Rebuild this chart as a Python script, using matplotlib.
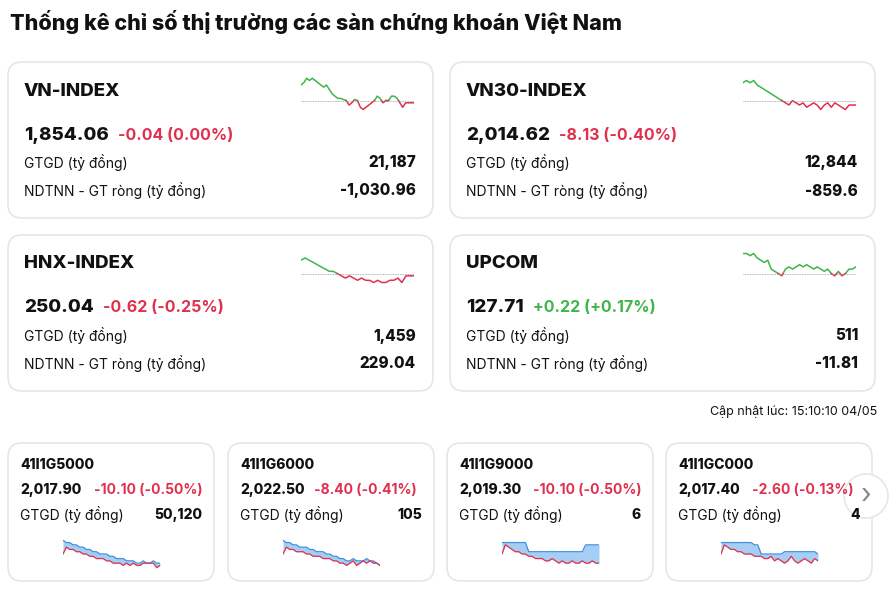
import numpy as np
import matplotlib.pyplot as plt
from matplotlib.patches import FancyBboxPatch

plt.rcParams['font.family'] = ['Inter', 'DejaVu Sans']

big_names = ["VN-INDEX", "VN30-INDEX", "HNX-INDEX", "UPCOM"]
big_values = ["1,854.06", "2,014.62", "250.04", "127.71"]
big_changes = ["-0.04 (0.00%)", "-8.13 (-0.40%)", "-0.62 (-0.25%)", "+0.22 (+0.17%)"]
big_gtgd = ["21,187", "12,844", "1,459", "511"]
big_ndtnn = ["-1,030.96", "-859.6", "229.04", "-11.81"]
spark_vn = [7,8,10,9,10,9,8,7,6,7,5,3,2,1,1,0.5,0,-2,-1,0.5,0,-3,-4,-3,-2,-1,0,2,1,-1,0,0,2,2,1,-1,-3,-1,-1,-1,-1]
spark_vn30 = [8,9,8,9,7,6,5,4,3,2,1,0,-1,-2,0,-1,-2,-1,-3,-2,-1,-2,-4,-2,-1,-3,-1,-2,-3,-4,-2,-2,-2]
spark_hnx = [6,7,6,5,4,3,2,1,1,0,-1,-2,-1,-2,-3,-2,-3,-3,-4,-3,-4,-4,-3,-3,-2,-4,-1,-1,-1]
spark_upcom = [9,9,8,9,7,6,5,6,2,1,0,-1,2,3,2,3,4,3,4,3,2,3,2,1,2,0,-1,1,-1,0,2,2,3]
big_sparks = [spark_vn, spark_vn30, spark_hnx, spark_upcom]

small_names = ["41I1G5000", "41I1G6000", "41I1G9000", "41I1GC000"]
small_values = ["2,017.90", "2,022.50", "2,019.30", "2,017.40"]
small_changes = ["-10.10 (-0.50%)", "-8.40 (-0.41%)", "-10.10 (-0.50%)", "-2.60 (-0.13%)"]
small_gtgd = ["50,120", "105", "6", "4"]
fut_1 = [10,9,9,8,8,7,7,6,6,5,5,4,4,4,3,3,2,2,2,1,1,1,0,0,1,0,0,1,0,0]
idx_1 = [4,7,6,6,5,5,4,4,3,3,2,2,2,1,1,0,0,0,-1,0,-1,0,-1,-1,0,0,0,0,-2,-1]
fut_2 = [10,9,9,8,8,7,7,7,6,6,5,5,5,4,4,3,3,2,2,1,1,2,1,1,1,2,1,1,0,-1]
idx_2 = [4,7,6,6,5,5,5,4,4,3,3,3,2,2,2,1,1,0,0,-1,0,1,-1,0,1,0,1,0,0,-1]
fut_3 = [9,9,9,9,9,9,9,9,5,5,5,5,5,5,5,5,5,5,5,5,5,5,5,5,5,8,8,8,8,8]
idx_3 = [4,8,7,6,5,5,4,4,3,3,2,2,2,1,1,2,1,0,1,0,0,1,0,0,1,0,0,1,0,0]
fut_4 = [9,9,9,9,9,9,9,9,9,9,8,8,4,4,4,4,4,4,4,5,5,5,5,5,5,5,5,5,5,4]
idx_4 = [4,8,7,6,6,5,5,4,4,4,3,3,3,2,2,3,1,2,1,0,1,3,1,0,1,2,1,0,2,1]
small_fut = [fut_1, fut_2, fut_3, fut_4]
small_idx = [idx_1, idx_2, idx_3, idx_4]

W, H = 890, 592
fig = plt.figure(figsize=(W/100, H/100), dpi=100)
bg = fig.add_axes([0, 0, 1, 1])
bg.set_xlim(0, W); bg.set_ylim(H, 0); bg.axis('off')
renderer = fig.canvas.get_renderer()

GREEN = '#3fb549'; RED = '#e0304e'; DARK = '#111111'; BLUE = '#3d8fe0'

def card(x, y, w, h):
    bg.add_patch(FancyBboxPatch((x, y), w, h, boxstyle="round,pad=0,rounding_size=14",
                                fc='white', ec='#e6e6ea', lw=1.2))

def sub_ax(x, y, w, h):
    a = fig.add_axes([x/W, 1-(y+h)/H, w/W, h/H])
    a.axis('off')
    return a

def right_end(txt):
    bb = txt.get_window_extent(renderer=renderer)
    return bb.x1

bg.text(10, 22, "Thống kê chỉ số thị trường các sàn chứng khoán Việt Nam", fontsize=15.5,
        fontweight='heavy', color=DARK, va='center')

pos = [(8, 62), (450, 62), (8, 235), (450, 235)]
for i, (x, y) in enumerate(pos):
    card(x, y, 425, 156)
    bg.text(x+16, y+29, big_names[i], fontsize=13.5, fontweight='heavy', color=DARK, va='center')
    tv = bg.text(x+16, y+73, big_values[i], fontsize=13.5, fontweight='heavy', color=DARK, va='center')
    col = GREEN if big_changes[i].startswith('+') else RED
    bg.text(right_end(tv) + 9, y+73, big_changes[i], fontsize=11.5,
            fontweight='bold', color=col, va='center')
    bg.text(x+16, y+101, "GTGD (tỷ đồng)", fontsize=10, color=DARK, va='center')
    bg.text(x+408, y+101, big_gtgd[i], fontsize=11, fontweight='heavy', color=DARK, va='center', ha='right')
    bg.text(x+16, y+129, "NDTNN - GT ròng (tỷ đồng)", fontsize=10, color=DARK, va='center')
    bg.text(x+408, y+129, big_ndtnn[i], fontsize=11, fontweight='heavy', color=DARK, va='center', ha='right')
    s = np.array(big_sparks[i], float)
    a = sub_ax(x+293, y+14, 113, 38)
    t = np.arange(len(s))
    tf = np.linspace(0, len(s)-1, 800)
    sf = np.interp(tf, t, s)
    a.plot(tf, np.where(sf >= 0, sf, np.nan), color=GREEN, lw=1.1)
    a.plot(tf, np.where(sf <= 0, sf, np.nan), color=RED, lw=1.1)
    a.axhline(0, color='#999999', lw=0.6, ls=(0, (1, 1)))
    a.set_xlim(0, len(s)-1); a.set_ylim(-6, 11)

bg.text(877, 411, "Cập nhật lúc: 15:10:10 04/05", fontsize=9, color=DARK, va='center', ha='right')

sx = [8, 228, 447, 666]
for i, x in enumerate(sx):
    card(x, 443, 206, 138)
    bg.text(x+12, 465, small_names[i], fontsize=10, fontweight='heavy', color=DARK, va='center')
    bg.text(x+12, 490, small_values[i], fontsize=10, fontweight='heavy', color=DARK, va='center')
    bg.text(x+86, 490, small_changes[i], fontsize=10, fontweight='bold', color=RED, va='center')
    bg.text(x+12, 515, "GTGD (tỷ đồng)", fontsize=10, color=DARK, va='center')
    bg.text(x+194, 515, small_gtgd[i], fontsize=10, fontweight='heavy', color=DARK, va='center', ha='right')
    f = np.array(small_fut[i], float); d = np.array(small_idx[i], float)
    a = sub_ax(x+55, 538, 97, 32)
    t = np.arange(len(f))
    a.fill_between(t, d, f, where=f >= d, color='#9cc8f2', alpha=0.9, lw=0, interpolate=True)
    a.plot(t, f, color=BLUE, lw=0.9)
    a.plot(t, d, color=RED, lw=0.9)
    a.set_xlim(0, len(f)-1); a.set_ylim(-3, 11)

bg.add_patch(plt.Circle((866, 496), 22, fc='white', ec='#e6e6ea', lw=1.2))
bg.text(866, 496, "›", fontsize=20, color='#888888', ha='center', va='center')

fig.savefig('out.png', dpi=100)
